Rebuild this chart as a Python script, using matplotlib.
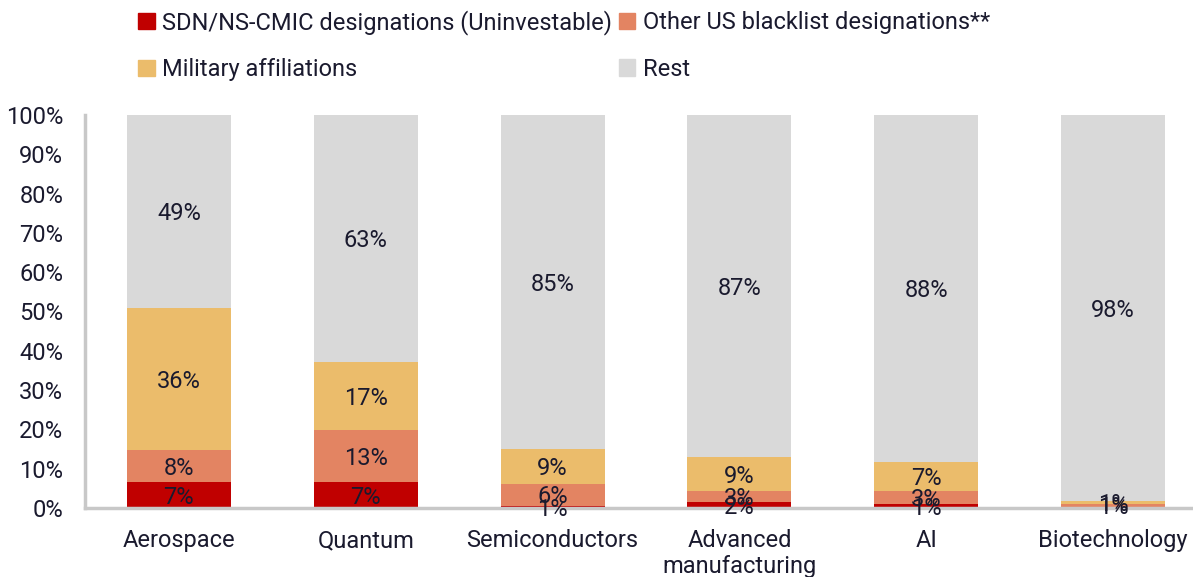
import numpy as np
import matplotlib
matplotlib.use("Agg")
import matplotlib.pyplot as plt
from matplotlib.patches import Patch

plt.rcParams['font.family'] = ['Roboto', 'DejaVu Sans']

categories = ["Aerospace", "Quantum", "Semiconductors", "Advanced\nmanufacturing", "AI", "Biotechnology"]
series_names = ["SDN/NS-CMIC designations (Uninvestable)", "Other US blacklist designations**",
                "Military affiliations", "Rest"]
sdn = [6.6, 6.6, 0.6, 1.6, 1.0, 0.3]
other = [8.2, 13.3, 5.6, 2.6, 3.4, 0.8]
military = [36.1, 17.3, 8.9, 8.9, 7.3, 0.6]
rest = [49.1, 62.8, 84.9, 86.9, 88.3, 98.3]

colors = ["#C00000", "#E38462", "#EBBC6B", "#D9D9D9"]
text_col = "#1A1A2E"
fs = 17

fig = plt.figure(figsize=(11.93, 5.77), dpi=100)
ax = fig.add_axes([85.5 / 1193, 1 - 508 / 577, 1121 / 1193, 393 / 577])

x = np.arange(len(categories))
bottom = np.zeros(len(categories))
for vals, col in zip([sdn, other, military, rest], colors):
    vals = np.array(vals)
    ax.bar(x, vals, 0.556, bottom=bottom, color=col, zorder=2)
    for xi, b, v in zip(x, bottom, vals):
        if round(v) >= 1:
            ax.text(xi, b + v / 2 - 0.6, "%d%%" % round(v), ha="center", va="center",
                    fontsize=fs, color=text_col, zorder=3)
    bottom += vals

ax.set_xlim(-0.5, 5.5)
ax.set_ylim(0, 100)
ax.set_yticks(np.arange(0, 101, 10))
ax.set_yticklabels(["%d%%" % t for t in range(0, 101, 10)])
ax.set_xticks(x)
ax.set_xticklabels(categories)
ax.tick_params(axis="both", length=0, labelsize=fs, labelcolor=text_col)
ax.tick_params(axis="x", pad=15)
ax.tick_params(axis="y", pad=16)
for s in ["top", "right"]:
    ax.spines[s].set_visible(False)
for s in ["left", "bottom"]:
    ax.spines[s].set_color("#C8C8C8")
    ax.spines[s].set_linewidth(2.5)

handles = [Patch(color=c) for c in colors]
order = [0, 2, 1, 3]
fig.legend([handles[i] for i in order], [series_names[i] for i in order],
           ncol=2, loc="upper left", bbox_to_anchor=(117 / 1193, 1.02),
           frameon=False, fontsize=fs, handlelength=0.7, handleheight=0.7,
           handletextpad=0.3, columnspacing=0.3, labelspacing=1.0,
           labelcolor=text_col)

fig.savefig("out.png", dpi=100)
